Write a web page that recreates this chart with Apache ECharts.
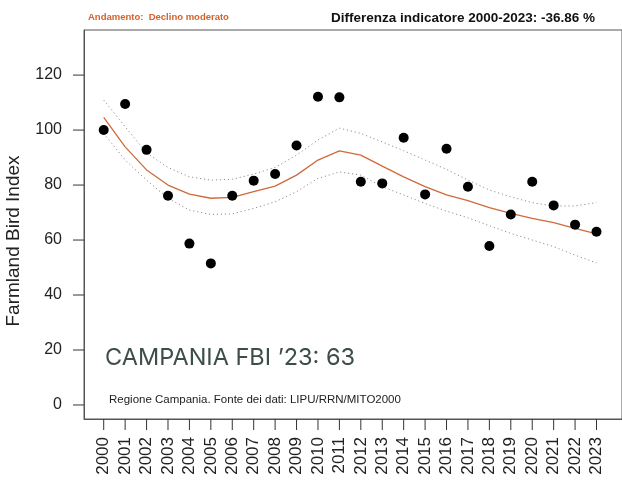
<!DOCTYPE html>
<html>
<head>
<meta charset="utf-8">
<script src="https://cdn.jsdelivr.net/npm/echarts@6/dist/echarts.min.js"></script>
<style>
  html, body { margin: 0; padding: 0; background: #fff; }
  #chart { width: 622px; height: 482px; }
</style>
</head>
<body>
<div id="chart"></div>
<script>
// dati
var years = [2000, 2001, 2002, 2003, 2004, 2005, 2006, 2007, 2008, 2009, 2010, 2011,
  2012, 2013, 2014, 2015, 2016, 2017, 2018, 2019, 2020, 2021, 2022, 2023];
var fbi = [100, 109.5, 92.8, 76.1, 58.7, 51.5, 76.1, 81.6, 84.0, 94.4, 112.1, 111.9,
  81.2, 80.6, 97.2, 76.6, 93.2, 79.4, 57.8, 69.3, 81.2, 72.6, 65.6, 63.0];
var trend = [104.6, 93.9, 85.5, 80.0, 76.7, 75.2, 75.5, 77.6, 79.6, 83.6, 89.1, 92.4,
  90.9, 86.9, 83.0, 79.4, 76.4, 74.3, 71.8, 69.7, 67.9, 66.3, 64.2, 62.2];
var upper = [110.9, 101.2, 91.7, 86.4, 83.0, 81.8, 82.1, 84.0, 86.4, 90.9, 96.4, 100.7,
  98.8, 95.7, 92.5, 89.1, 85.7, 81.8, 78.2, 75.7, 73.6, 72.4, 72.4, 73.6];
var lower = [98.8, 89.1, 81.8, 75.2, 70.9, 69.3, 69.5, 71.5, 73.9, 77.6, 82.4, 84.8,
  83.6, 79.4, 76.4, 73.3, 70.5, 68.1, 65.2, 62.4, 60.0, 57.6, 54.5, 51.7];
var yTicks = [0, 20, 40, 60, 80, 100, 120];

var xMin = 1999.08, xMax = 2024.19;
var yMin = -5.1, yMax = 136.4;

function pairs(vals) {
  return years.map(function (y, i) { return [y, vals[i]]; });
}

var chart = echarts.init(document.getElementById('chart'));

var ciStyle = { color: '#9a8a82', width: 1, type: [1.2, 2.8] };

// tacche disegnate con le scale degli assi (stile R: fuori dal riquadro)
function tickX(params, api) {
  var p = api.coord([api.value(0), yMin]);
  return { type: 'line', shape: { x1: p[0], y1: p[1], x2: p[0], y2: p[1] + 11 },
    style: { stroke: '#333', lineWidth: 1 } };
}
function tickY(params, api) {
  var p = api.coord([xMin, api.value(1)]);
  return { type: 'line', shape: { x1: p[0], y1: p[1], x2: p[0] - 11, y2: p[1] },
    style: { stroke: '#333', lineWidth: 1 } };
}

var option = {
  animation: false,
  grid: {
    left: 84, right: -10, top: 30, bottom: 63,
    show: true, borderColor: '#555', borderWidth: 1
  },
  xAxis: {
    type: 'value',
    min: xMin,
    max: xMax,
    // l'asse x si appoggia sullo zero dell'asse y ausiliario (bordo inferiore)
    axisLine: { show: true, onZero: true, onZeroAxisIndex: 1, lineStyle: { color: '#555' } },
    splitLine: { show: false },
    axisTick: { show: false },
    axisLabel: {
      customValues: years,
      rotate: 90,
      margin: 10,
      padding: [0, 8, 0, 0],
      color: '#222',
      fontSize: 17,
      fontFamily: '"Liberation Sans", Arial, sans-serif',
      formatter: function (v) { return String(Math.round(v)); }
    }
  },
  yAxis: [{
    type: 'value',
    min: yMin,
    max: yMax,
    axisLine: { show: true, lineStyle: { color: '#555' } },
    splitLine: { show: false },
    axisTick: { show: false },
    axisLabel: {
      customValues: yTicks,
      margin: 10,
      padding: [0, 12, 0, 0],
      color: '#222',
      fontSize: 16,
      fontFamily: '"Liberation Sans", Arial, sans-serif'
    }
  }, {
    type: 'value', min: 0, max: 1, show: false
  }],
  series: [
    { type: 'custom', data: years.map(function (y) { return [y, yMin]; }),
      renderItem: tickX, clip: false, silent: true, z: 5 },
    { type: 'custom', data: yTicks.map(function (v) { return [xMin, v]; }),
      renderItem: tickY, clip: false, silent: true, z: 5 },
    { type: 'line', data: pairs(upper), showSymbol: false, lineStyle: ciStyle, z: 2 },
    { type: 'line', data: pairs(lower), showSymbol: false, lineStyle: ciStyle, z: 2 },
    { type: 'line', data: pairs(trend), showSymbol: false,
      lineStyle: { color: '#cf6a3a', width: 1.3 }, z: 3 },
    { type: 'scatter', data: pairs(fbi), symbolSize: 10,
      itemStyle: { color: '#000', opacity: 1 }, z: 4 }
  ],
  graphic: [
    { type: 'text', left: 88, top: 12,
      style: { text: 'Andamento:  Declino moderato', fill: '#d5602a',
        font: 'bold 9.5px "Liberation Sans", Arial, sans-serif' } },
    { type: 'text', left: 331, top: 11,
      style: { text: 'Differenza indicatore 2000-2023: -36.86 %', fill: '#111',
        font: 'bold 13.5px "Liberation Sans", Arial, sans-serif' } },
    { type: 'text', x: 14, y: 241, rotation: Math.PI / 2,
      style: { text: 'Farmland Bird Index', fill: '#222', align: 'center', verticalAlign: 'middle',
        font: '19px "Liberation Sans", Arial, sans-serif' } },
    { type: 'text', left: 105, top: 346, z: 10,
      style: { text: 'CAMPANIA FBI \u201923: 63', fill: '#3d4d47',
        font: '23.5px Inter, "Noto Sans", sans-serif' } },
    { type: 'text', left: 109, top: 394, z: 10,
      style: { text: 'Regione Campania. Fonte dei dati: LIPU/RRN/MITO2000', fill: '#222',
        font: '11.5px "Liberation Sans", Arial, sans-serif' } }
  ]
};

chart.setOption(option);
</script>
</body>
</html>
